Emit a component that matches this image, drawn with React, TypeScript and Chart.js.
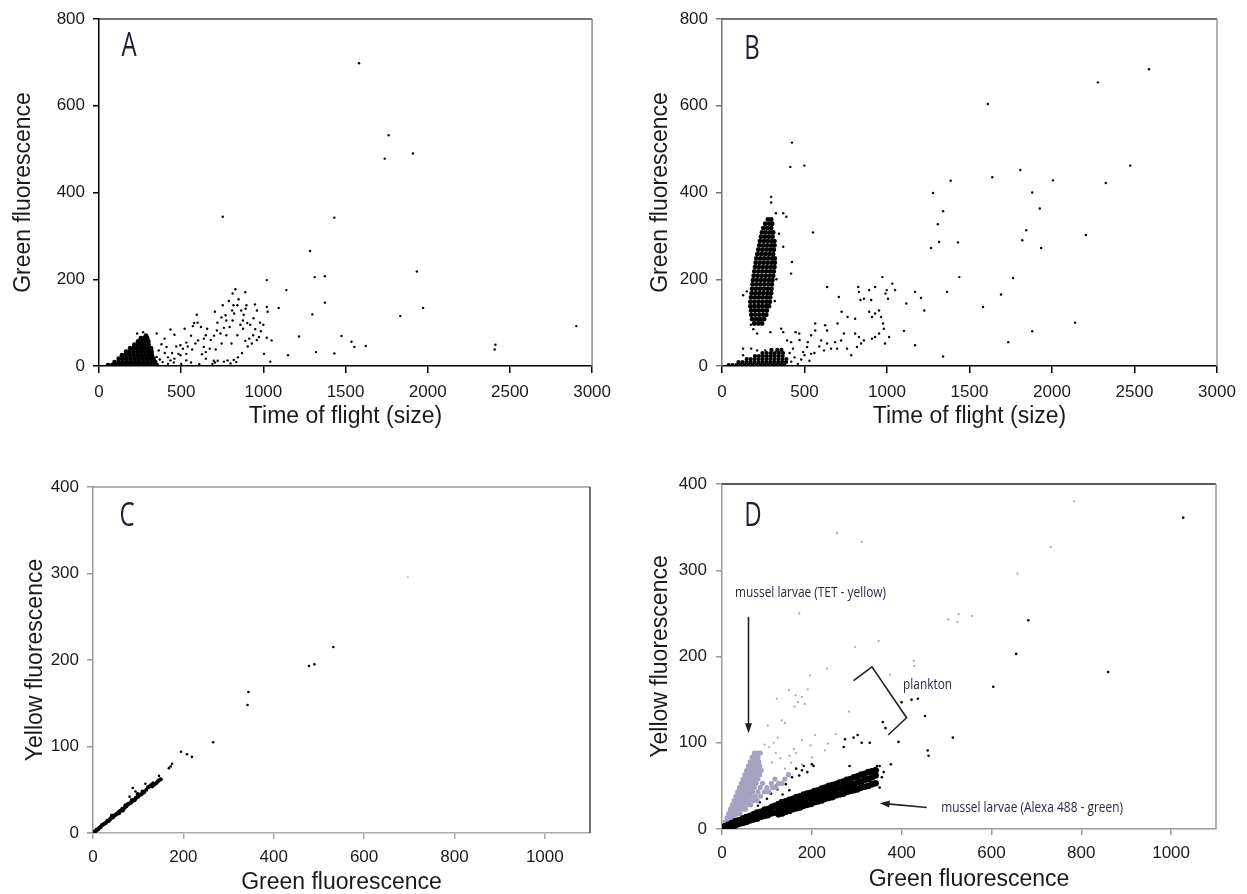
import React, { useEffect, useRef } from "react";
import { Chart, registerables } from "chart.js";

Chart.register(...registerables);

type Pt = [number, number];
type Row = [number, number[]];

const FONT = "'Liberation Sans', Arial, sans-serif";
const NOTE_FONT = "'Open Sans', 'Noto Sans', sans-serif";

// ---------- tick labels ----------
const tofTicks = [0, 500, 1000, 1500, 2000, 2500, 3000];
const green800Ticks = [0, 200, 400, 600, 800];
const greenTicks = [0, 200, 400, 600, 800, 1000];
const yellowTicks = [0, 100, 200, 300, 400];

// ---------- Panel A: time of flight vs green ----------
const aSparse: Pt[] = [
  [1582, 698], [1762, 532], [1738, 478], [1910, 490], [753, 344], [1432, 342], [1284, 265], [1312, 205],
  [1374, 207], [1934, 218], [1374, 146], [1298, 119], [1972, 134], [1833, 115], [2904, 92], [2412, 49],
  [2407, 38], [1623, 46], [1554, 44], [1536, 56], [1475, 69], [1432, 29], [1320, 32], [1217, 68],
  [1150, 25], [1140, 175], [1021, 198], [1093, 134], [1042, 10], [1050, 59], [1021, 65], [1004, 28],
  [830, 177], [813, 167], [890, 170], [849, 154], [842, 140], [753, 140], [818, 140], [897, 140],
  [949, 142], [892, 132], [822, 121], [770, 117], [705, 125], [595, 118], [961, 128], [1021, 136],
  [1026, 125], [579, 99], [571, 92], [658, 86], [521, 86], [435, 84], [351, 75], [399, 63], [459, 72],
  [531, 54], [495, 48], [586, 52], [603, 59], [638, 63], [650, 71], [717, 82], [739, 75], [775, 71],
  [775, 105], [813, 105], [876, 105], [902, 99], [876, 86], [842, 71], [890, 58], [914, 63], [938, 71],
  [973, 67], [806, 52], [746, 52], [710, 38], [674, 40], [638, 44], [567, 38], [531, 28], [495, 25],
  [459, 17], [435, 13], [626, 27], [698, 12], [722, 12], [782, 13], [835, 9], [650, 17], [531, 13],
  [387, 9], [351, 21], [316, 28], [363, 36], [411, 44], [483, 28], [232, 75], [292, 71], [268, 78],
  [690, 5], [706, 8], [760, 10], [800, 6], [820, 14], [845, 20], [870, 30], [905, 45], [930, 52],
  [960, 60], [985, 80], [1000, 95], [940, 110], [880, 118], [860, 95], [795, 90], [760, 88], [700, 70],
  [620, 90], [600, 100], [560, 70], [540, 45], [510, 40], [470, 45], [445, 30], [420, 20], [400, 30],
  [380, 50], [370, 15], [420, 5], [455, 8], [500, 5], [560, 8], [610, 4], [650, 32], [680, 60],
  [720, 100], [745, 112], [810, 128], [790, 150], [865, 128], [920, 95], [980, 100], [950, 85],
];
const aBlobRows: Row[] = [
  [2, [55, 80, 105, 130, 155, 180, 205, 230, 255, 280, 305, 330, 352]],
  [9, [95, 120, 145, 170, 195, 220, 245, 270, 295, 320, 342]],
  [17, [120, 143, 167, 191, 215, 239, 263, 287, 311, 332]],
  [25, [140, 163, 186, 209, 232, 255, 278, 301, 322]],
  [33, [165, 188, 211, 234, 257, 280, 303, 320]],
  [41, [190, 212, 234, 256, 278, 300, 316]],
  [49, [215, 237, 259, 281, 302]],
  [57, [238, 260, 282, 300]],
  [64, [255, 275, 293]],
  [70, [285]],
];

// ---------- Panel B: time of flight vs green (stained) ----------
const bSparse: Pt[] = [
  [2588, 684], [2278, 654], [1611, 604], [424, 515], [414, 459], [499, 462], [2474, 462], [1638, 435],
  [1808, 452], [2006, 428], [2326, 422], [1386, 427], [1880, 400], [1279, 399], [1340, 357], [1308, 327],
  [1844, 313], [1316, 286], [1430, 285], [1820, 290], [2205, 302], [1934, 272], [1926, 363], [1267, 272],
  [552, 308], [1764, 203], [1438, 205], [1691, 165], [1582, 136], [1364, 171], [1117, 144], [1226, 128],
  [1170, 171], [1206, 157], [2140, 100], [1880, 80], [1735, 55], [1170, 48], [1340, 22], [1103, 81],
  [972, 205], [1032, 190], [1049, 175], [998, 175], [991, 167], [1006, 155], [928, 182], [892, 175],
  [860, 155], [839, 152], [826, 182], [830, 171], [904, 152], [892, 125], [928, 121], [952, 128],
  [964, 113], [976, 98], [981, 86], [952, 75], [928, 67], [909, 63], [988, 52], [1013, 67], [909, 113],
  [807, 109], [637, 182], [708, 159], [725, 125], [761, 113], [739, 75], [700, 98], [637, 82], [625, 94],
  [565, 98], [565, 82], [540, 71], [601, 59], [637, 52], [686, 55], [722, 59], [758, 40], [783, 25],
  [807, 75], [830, 67], [843, 52], [860, 59], [818, 44], [698, 40], [661, 40], [618, 36], [516, 44],
  [540, 28], [492, 32], [468, 75], [446, 78], [419, 55], [395, 59], [359, 86], [371, 78], [293, 78],
  [177, 40], [128, 40], [128, 25], [213, 36], [262, 36], [310, 28],
  [128, 163], [150, 172], [213, 75], [298, 390], [298, 377], [327, 352], [371, 352], [390, 344],
  [346, 305], [371, 275], [424, 240], [419, 213], [330, 200], [320, 150], [180, 120], [175, 95], [190, 85],
  [420, 10], [440, 20], [460, 5], [480, 15], [500, 25], [530, 12], [560, 30], [590, 45], [470, 60],
  [430, 40], [410, 30], [520, 55],
];
const bCloudRows: Row[] = [
  [98, [195, 220, 243]],
  [108, [183, 207, 231, 255]],
  [118, [178, 202, 226, 250, 268]],
  [128, [176, 200, 224, 248, 272]],
  [138, [172, 196, 220, 244, 268, 285]],
  [148, [172, 196, 220, 244, 268, 290]],
  [158, [176, 200, 224, 248, 272, 292]],
  [168, [180, 204, 228, 252, 276, 298]],
  [178, [182, 206, 230, 254, 278, 300]],
  [188, [185, 209, 233, 257, 281, 303]],
  [198, [188, 212, 236, 260, 284, 306]],
  [208, [192, 216, 240, 264, 288, 310]],
  [218, [196, 220, 244, 268, 292, 314]],
  [228, [200, 224, 248, 272, 296, 318]],
  [238, [204, 228, 252, 276, 300, 320]],
  [248, [208, 232, 256, 280, 304, 320]],
  [258, [214, 238, 262, 286, 310]],
  [268, [220, 244, 268, 292, 314]],
  [278, [226, 250, 274, 298, 318]],
  [288, [230, 254, 278, 302, 318]],
  [298, [236, 260, 284, 306]],
  [308, [242, 266, 290, 310]],
  [318, [250, 274, 298]],
  [328, [262, 286, 304]],
  [338, [278, 298]],
];
const bBandRows: Row[] = [
  [2, [40, 64, 88, 112, 136, 160, 184, 208, 232, 256, 280, 304, 328, 352, 376]],
  [9, [100, 124, 148, 172, 196, 220, 244, 268, 292, 316, 340, 364, 388]],
  [16, [150, 174, 198, 222, 246, 270, 294, 318, 342, 366, 390]],
  [23, [200, 224, 248, 272, 296, 320, 344, 368]],
  [30, [245, 270, 295, 320, 345, 370]],
  [37, [300, 335, 360]],
];

// ---------- Panel C: green vs yellow (unstained) ----------
const cSparse: Pt[] = [
  [532, 215], [478, 193], [490, 195], [344, 163], [342, 148], [266, 105], [195, 94], [208, 91], [219, 88],
  [175, 80], [168, 75], [172, 77], [146, 66], [133, 58], [116, 57], [94, 48], [88, 52], [81, 42],
];
const cFaint: Pt[] = [[697, 296]];
const cLine: Pt[] = [
  [2, 1], [5, 2], [8, 4], [11, 4], [14, 6], [17, 7], [20, 9], [23, 10], [26, 11], [29, 12], [32, 14],
  [35, 14], [38, 16], [41, 18], [44, 18], [47, 20], [50, 21], [53, 22], [56, 24], [59, 25], [62, 26],
  [65, 28], [68, 28], [71, 30], [74, 31], [77, 33], [80, 34], [84, 35], [88, 37], [92, 38], [96, 41],
  [100, 42], [104, 44], [108, 45], [113, 47], [118, 50], [122, 53], [126, 54], [131, 54], [136, 56],
  [141, 58], [146, 61], [150, 62], [42, 20], [58, 23], [66, 26], [72, 32], [86, 38], [94, 40], [99, 45],
  [110, 48], [128, 55], [133, 57], [144, 60],
];

// ---------- Panel D: green vs yellow (stained mix) ----------
const dGraySparse: Pt[] = [
  [784, 380], [256, 343], [311, 333], [732, 327], [658, 296], [172, 250], [504, 243], [527, 249],
  [524, 240], [557, 247], [349, 218], [296, 211], [427, 195], [428, 189], [234, 186], [374, 179],
  [196, 178], [122, 151], [149, 161], [191, 162], [164, 155], [178, 153], [184, 145], [162, 142],
  [169, 147], [283, 136], [133, 126], [140, 123], [102, 120], [124, 106], [178, 103], [207, 109],
  [253, 110], [236, 99], [229, 91], [197, 97], [160, 93], [200, 83], [178, 75], [154, 77], [140, 70],
  [111, 77], [120, 88], [130, 82], [105, 95], [115, 100], [95, 98], [150, 85], [165, 88],
];
const dGrayRows: Row[] = [
  [3, [3, 8]],
  [8, [7, 13, 19]],
  [13, [11, 17, 23, 29]],
  [18, [15, 21, 27, 33, 40]],
  [23, [19, 25, 31, 37, 44, 52]],
  [28, [23, 29, 35, 41, 48, 56, 64]],
  [33, [27, 33, 39, 45, 52, 60, 70, 78]],
  [38, [31, 37, 43, 49, 56, 64, 74, 86]],
  [43, [35, 41, 47, 53, 60, 68, 80, 94, 104]],
  [48, [39, 45, 51, 57, 64, 72, 85, 100, 112, 120]],
  [53, [43, 49, 55, 61, 68, 76, 90, 110, 126, 134]],
  [58, [47, 53, 59, 65, 72, 80, 118, 140]],
  [63, [51, 57, 63, 69, 76, 84, 148]],
  [68, [55, 61, 67, 73, 80, 87]],
  [73, [59, 65, 71, 77, 84]],
  [78, [63, 69, 75, 82]],
  [83, [67, 73, 80]],
  [88, [72, 79, 85]],
];
const dBlackSparse: Pt[] = [
  [1027, 361], [682, 242], [655, 203], [860, 182], [604, 165], [514, 106], [393, 101], [400, 147],
  [422, 150], [436, 151], [452, 131], [458, 91], [460, 85], [358, 124], [364, 117], [302, 109],
  [293, 106], [274, 104], [271, 95], [311, 100], [329, 100], [284, 73], [351, 73], [376, 75], [347, 68],
  [351, 48], [182, 73], [204, 73], [178, 68], [156, 60], [142, 52], [123, 46], [109, 41], [84, 31],
  [80, 27], [71, 15], [165, 70], [190, 66], [200, 75], [172, 62], [120, 50], [150, 45], [135, 40],
  [100, 35], [95, 25], [110, 28], [130, 33], [345, 73], [356, 60], [340, 70], [360, 66], [330, 68], [320, 66],
];
const dBandX = [6, 14, 22, 30, 38, 46, 54, 62, 70, 78, 86, 94, 102, 110, 118, 126, 134, 142, 150, 158, 166,
  174, 182, 190, 198, 206, 214, 222, 230, 238, 246, 254, 262, 270, 278, 286, 294, 302, 310, 318, 326, 334, 342];
const dBandLow = [1, 2, 3, 4, 6, 7, 8, 10, 11, 12, 14, 15, 16, 18, 19, 17, 18, 20, 21, 23, 24, 25, 27, 28,
  29, 31, 32, 33, 35, 36, 37, 39, 40, 41, 43, 44, 45, 46, 48, 49, 50, 52, 53];
const dBandMid = [0, 0, 0, 0, 0, 0, 0, 0, 0, 0, 0, 0, 0, 0, 0, 23, 25, 26, 28, 29, 30, 32, 33, 35, 36, 37,
  39, 40, 41, 43, 44, 46, 47, 48, 50, 51, 52, 54, 55, 57, 58, 60, 62];
const dBandHigh = [3, 5, 7, 9, 10, 12, 14, 15, 17, 19, 20, 22, 23, 25, 27, 29, 31, 32, 34, 35, 37, 38, 40,
  41, 42, 44, 45, 47, 48, 50, 51, 52, 54, 55, 57, 58, 60, 61, 63, 64, 66, 67, 68];

// annotations in D (data coordinates)
const dNotes = [
  { text: "mussel larvae (TET - yellow)", x: 29, y: 274 },
  { text: "plankton", x: 403, y: 167 },
  { text: "mussel larvae (Alexa 488 - green)", x: 488, y: 24 },
];
const dArrowTET: Pt[] = [[59, 246], [59, 111]];
const dArrowAlexa: Pt[] = [[456, 25], [351, 30]];
const dBracket: Pt[] = [[293, 172], [334, 188], [411, 129], [370, 109]];

// ---------- helpers ----------
const rowsToPts = (rows: Row[]): Pt[] => rows.flatMap(([y, xs]) => xs.map((x) => [x, y] as Pt));
const bandPts = (): Pt[] => {
  const out: Pt[] = [];
  dBandX.forEach((x, i) => {
    out.push([x, dBandLow[i]]);
    if (dBandMid[i] > 0) out.push([x, dBandMid[i]]);
    out.push([x, dBandHigh[i]]);
  });
  return out;
};

interface DS { data: Pt[]; color: string; r: number }
interface Line { pts: Pt[]; arrow: boolean }
interface Spec {
  key: string; left: number; top: number; w: number; h: number;
  padTop: number; padRight: number; yW: number; xH: number;
  xMax: number; yMax: number; xTicks: number[]; yTicks: number[];
  xTitle: string; yTitle: string;
  xTickLen: number; xTickPad: number; yTickLen: number; yTickPad: number;
  xTitlePad: number; yTitlePad: number;
  frame: { left: string; bottom: string; top: string; right: string };
  letter: { text: string; dx: number; dy: number };
  datasets: DS[];
  notes?: { text: string; x: number; y: number }[];
  lines?: Line[];
}

const BLACK = "#000000";
const LAV = "#a3a3c1";

const panels: Spec[] = [
  {
    key: "A", left: 0, top: 0, w: 620, h: 440, padTop: 19, padRight: 27, yW: 99, xH: 74,
    xMax: 3000, yMax: 800, xTicks: tofTicks, yTicks: green800Ticks,
    xTitle: "Time of flight (size)", yTitle: "Green fluorescence",
    xTickLen: 7, xTickPad: 9, yTickLen: 6, yTickPad: 8, xTitlePad: 11.5, yTitlePad: 12.5,
    frame: { left: "#000", bottom: "#000", top: "#444", right: "#888" },
    letter: { text: "A", dx: 30, dy: 28 },
    datasets: [
      { data: rowsToPts(aBlobRows), color: BLACK, r: 2.4 },
      { data: aSparse, color: BLACK, r: 1.2 },
    ],
  },
  {
    key: "B", left: 620, top: 0, w: 627, h: 440, padTop: 19, padRight: 30, yW: 102, xH: 74,
    xMax: 3000, yMax: 800, xTicks: tofTicks, yTicks: green800Ticks,
    xTitle: "Time of flight (size)", yTitle: "Green fluorescence",
    xTickLen: 7, xTickPad: 9, yTickLen: 6, yTickPad: 8, xTitlePad: 11.5, yTitlePad: 29.5,
    frame: { left: "#777", bottom: "#000", top: "#444", right: "#999" },
    letter: { text: "B", dx: 30, dy: 31 },
    datasets: [
      { data: rowsToPts(bCloudRows), color: BLACK, r: 2.4 },
      { data: rowsToPts(bBandRows), color: BLACK, r: 2.1 },
      { data: bSparse, color: BLACK, r: 1.2 },
    ],
  },
  {
    key: "C", left: 0, top: 440, w: 620, h: 454, padTop: 47, padRight: 30, yW: 93, xH: 61,
    xMax: 1100, yMax: 400, xTicks: greenTicks, yTicks: yellowTicks,
    xTitle: "Green fluorescence", yTitle: "Yellow fluorescence",
    xTickLen: 6, xTickPad: 8, yTickLen: 6, yTickPad: 8, xTitlePad: 0, yTitlePad: 24.5,
    frame: { left: "#999", bottom: "#aaa", top: "#999", right: "#444" },
    letter: { text: "C", dx: 34, dy: 30 },
    datasets: [
      { data: cLine, color: BLACK, r: 2.1 },
      { data: cSparse, color: BLACK, r: 1.3 },
      { data: cFaint, color: "#c4c4c4", r: 1 },
    ],
  },
  {
    key: "D", left: 620, top: 440, w: 627, h: 454, padTop: 44, padRight: 31, yW: 102, xH: 65,
    xMax: 1100, yMax: 400, xTicks: greenTicks, yTicks: yellowTicks,
    xTitle: "Green fluorescence", yTitle: "Yellow fluorescence",
    xTickLen: 6, xTickPad: 8, yTickLen: 6, yTickPad: 9, xTitlePad: 2.5, yTitlePad: 29.5,
    frame: { left: "#999", bottom: "#999", top: "#222", right: "#999" },
    letter: { text: "D", dx: 31, dy: 33 },
    datasets: [
      { data: bandPts(), color: BLACK, r: 3.3 },
      { data: rowsToPts(dGrayRows), color: LAV, r: 2.6 },
      { data: dGraySparse, color: LAV, r: 1.1 },
      { data: dBlackSparse, color: BLACK, r: 1.3 },
    ],
    notes: dNotes,
    lines: [
      { pts: dArrowTET, arrow: true },
      { pts: dArrowAlexa, arrow: true },
      { pts: dBracket, arrow: false },
    ],
  },
];

function makePlugins(spec: Spec) {
  const frame = {
    id: "frame" + spec.key,
    beforeDatasetsDraw(chart: any) {
      const { ctx, chartArea: a } = chart;
      ctx.save();
      ctx.lineWidth = 1.5;
      ctx.strokeStyle = spec.frame.top;
      ctx.beginPath();
      ctx.moveTo(a.left, a.top);
      ctx.lineTo(a.right, a.top);
      ctx.stroke();
      ctx.strokeStyle = spec.frame.right;
      ctx.beginPath();
      ctx.moveTo(a.right, a.top);
      ctx.lineTo(a.right, a.bottom);
      ctx.stroke();
      ctx.restore();
    },
  };
  const overlay = {
    id: "overlay" + spec.key,
    afterDraw(chart: any) {
      const { ctx, chartArea: a, scales } = chart;
      const px = (v: number) => scales.x.getPixelForValue(v);
      const py = (v: number) => scales.y.getPixelForValue(v);
      ctx.save();
      // panel letter
      ctx.save();
      ctx.translate(a.left + spec.letter.dx, a.top + spec.letter.dy);
      ctx.scale(0.75, 1);
      ctx.font = `32px ${NOTE_FONT}`;
      ctx.fillStyle = "#1d1d33";
      ctx.textAlign = "center";
      ctx.textBaseline = "middle";
      ctx.fillText(spec.letter.text, 0, 0);
      ctx.restore();
      // notes
      (spec.notes || []).forEach((n) => {
        ctx.save();
        ctx.translate(px(n.x), py(n.y));
        ctx.scale(0.85, 1);
        ctx.font = `14px ${NOTE_FONT}`;
        ctx.fillStyle = "#2b2744";
        ctx.textAlign = "left";
        ctx.textBaseline = "middle";
        ctx.fillText(n.text, 0, 0);
        ctx.restore();
      });
      // lines / arrows
      (spec.lines || []).forEach((l) => {
        const pts = l.pts.map(([x, y]) => [px(x), py(y)]);
        ctx.strokeStyle = "#222";
        ctx.fillStyle = "#222";
        ctx.lineWidth = 1.6;
        const last = pts[pts.length - 1];
        const prev = pts[pts.length - 2];
        const ang = Math.atan2(last[1] - prev[1], last[0] - prev[0]);
        const L = 10, W = 3.5;
        const endLine = l.arrow ? [last[0] - Math.cos(ang) * (L - 2), last[1] - Math.sin(ang) * (L - 2)] : last;
        ctx.beginPath();
        pts.forEach((p, i) => {
          const q = i === pts.length - 1 ? endLine : p;
          if (i === 0) ctx.moveTo(q[0], q[1]);
          else ctx.lineTo(q[0], q[1]);
        });
        ctx.stroke();
        if (l.arrow) {
          const bx = last[0] - Math.cos(ang) * L;
          const by = last[1] - Math.sin(ang) * L;
          ctx.beginPath();
          ctx.moveTo(last[0], last[1]);
          ctx.lineTo(bx - Math.sin(ang) * W, by + Math.cos(ang) * W);
          ctx.lineTo(bx + Math.sin(ang) * W, by - Math.cos(ang) * W);
          ctx.closePath();
          ctx.fill();
        }
      });
      ctx.restore();
    },
  };
  return [frame, overlay];
}

function buildConfig(spec: Spec): any {
  const tickFont = { family: FONT, size: 17 };
  const titleFont = { family: FONT, size: 23, lineHeight: 1 };
  return {
    type: "scatter",
    data: {
      datasets: spec.datasets.map((d) => ({
        data: d.data.map(([x, y]) => ({ x, y })),
        pointBackgroundColor: d.color,
        pointBorderWidth: 0,
        pointRadius: d.r,
        pointHoverRadius: d.r,
        showLine: false,
      })),
    },
    options: {
      responsive: false,
      animation: false,
      events: [],
      layout: { padding: { left: 0, top: spec.padTop, right: spec.padRight, bottom: 0 } },
      plugins: { legend: { display: false }, tooltip: { enabled: false } },
      scales: {
        x: {
          type: "linear",
          min: 0,
          max: spec.xMax,
          afterBuildTicks: (s: any) => { s.ticks = spec.xTicks.map((v) => ({ value: v })); },
          afterFit: (s: any) => { s.height = spec.xH; },
          ticks: {
            font: tickFont, color: "#1a1a1a", padding: spec.xTickPad, maxRotation: 0, autoSkip: false,
            callback: (v: any) => String(v),
          },
          grid: { drawOnChartArea: false, drawTicks: true, tickLength: spec.xTickLen, color: spec.frame.bottom, lineWidth: 1.5 },
          border: { display: true, color: spec.frame.bottom, width: 1.5 },
          title: { display: true, text: spec.xTitle, font: titleFont, color: "#1a1a1a", padding: { top: 0, bottom: spec.xTitlePad } },
        },
        y: {
          type: "linear",
          min: 0,
          max: spec.yMax,
          afterBuildTicks: (s: any) => { s.ticks = spec.yTicks.map((v) => ({ value: v })); },
          afterFit: (s: any) => { s.width = spec.yW; },
          ticks: {
            font: tickFont, color: "#1a1a1a", padding: spec.yTickPad, autoSkip: false,
            callback: (v: any) => String(v),
          },
          grid: { drawOnChartArea: false, drawTicks: true, tickLength: spec.yTickLen, color: spec.frame.left, lineWidth: 1.5 },
          border: { display: true, color: spec.frame.left, width: 1.5 },
          title: { display: true, text: spec.yTitle, font: titleFont, color: "#1a1a1a", padding: { top: spec.yTitlePad, bottom: 0 } },
        },
      },
    },
    plugins: makePlugins(spec),
  };
}

function Panel({ spec }: { spec: Spec }) {
  const ref = useRef<HTMLCanvasElement | null>(null);
  useEffect(() => {
    if (!ref.current) return;
    const chart = new Chart(ref.current, buildConfig(spec));
    return () => chart.destroy();
  }, [spec]);
  return (
    <canvas
      ref={ref}
      width={spec.w}
      height={spec.h}
      style={{ position: "absolute", left: spec.left, top: spec.top, width: spec.w, height: spec.h }}
    />
  );
}

export default function App() {
  return (
    <div style={{ position: "absolute", left: 0, top: 0, width: 1247, height: 894, background: "#fff", overflow: "hidden" }}>
      {panels.map((p) => (
        <Panel key={p.key} spec={p} />
      ))}
    </div>
  );
}
